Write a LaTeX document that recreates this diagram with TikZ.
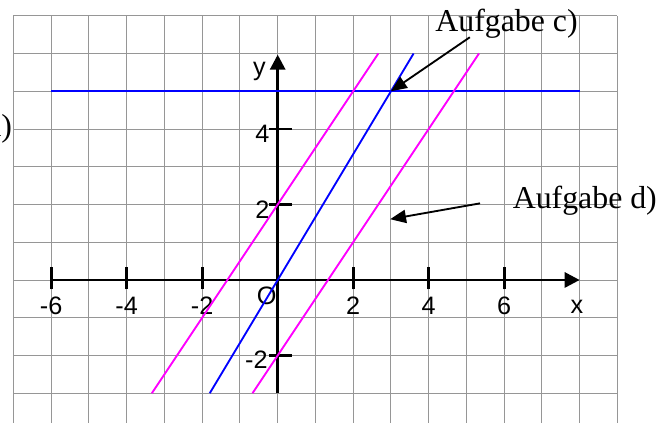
\documentclass[tikz,border=0pt]{standalone}
\usepackage{fontspec}
\setmainfont{Liberation Serif}
\setsansfont{Liberation Sans}
\usetikzlibrary{arrows.meta}
\definecolor{gridgray}{RGB}{150,150,150}
\definecolor{lineblue}{RGB}{0,0,255}
\definecolor{linemag}{RGB}{255,0,255}
\begin{document}
\begin{tikzpicture}[x=1cm,y=1cm,
  gridline/.style={draw=gridgray, line width=0.7pt},
  blueline/.style={draw=lineblue, line width=1.4pt},
  magline/.style={draw=linemag, line width=1.4pt},
  axisline/.style={draw=black, line width=2.2pt, -{Triangle[length=0.4cm,width=0.4cm]}},
  tickline/.style={draw=black, line width=2.2pt},
  ticklabel/.style={inner sep=0pt, font=\sffamily\fontsize{19}{19}\selectfont},
  callouttext/.style={inner sep=0pt, font=\rmfamily\fontsize{24}{24}\selectfont},
  calloutarrow/.style={draw=black, line width=1.4pt, -{Triangle[length=0.42cm,width=0.35cm]}}
]
\useasboundingbox (-7.356,-3.788) rectangle (10.313,7.417);

% grid
\draw[gridline] (-7,-4) grid (9,7);

% axes
\coordinate (xstart) at (-6,0);
\coordinate (xend) at (8,0);
\coordinate (ystart) at (0,-3);
\coordinate (yend) at (0,5.97);
\draw[axisline] (xstart) -- (xend);
\draw[axisline] (ystart) -- (yend);
\foreach \t in {-6,-4,-2,2,4,6}{
  \draw[tickline] (\t,-0.25) -- (\t,0.35);
  \node[ticklabel, anchor=base] (xl\t) at (\t,-0.92) {\t};
}
\foreach \t in {-2,2,4}{
  \draw[tickline] (-0.22,\t) -- (0.37,\t);
}
\node[ticklabel, anchor=base east] (yl4) at (-0.21,3.64) {4};
\node[ticklabel, anchor=base east] (yl2) at (-0.21,1.63) {2};
\node[ticklabel, anchor=base east] (ylm2) at (-0.26,-2.34) {-2};
\node[ticklabel, anchor=base] (xlab) at (7.93,-0.9) {x};
\node[ticklabel, anchor=base east] (ylab) at (-0.31,5.43) {y};
\node[ticklabel, anchor=base] (olab) at (-0.29,-0.66) {O};

% lines
\coordinate (ha) at (-6,5);
\coordinate (hb) at (8,5);
\draw[blueline] (ha) -- (hb);
\coordinate (ba) at (-1.8,-3);
\coordinate (bb) at (3.6,6);
\draw[blueline] (ba) -- (bb);
\coordinate (ma) at (-3.3333,-3);
\coordinate (mb) at (2.6667,6);
\draw[magline] (ma) -- (mb);
\coordinate (na) at (-0.6667,-3);
\coordinate (nb) at (5.3333,6);
\draw[magline] (na) -- (nb);

% callouts
\node[callouttext, anchor=base west] (tc) at (4.17,6.58) {Aufgabe c)};
\node[callouttext, anchor=base west] (td) at (6.22,1.9) {Aufgabe d)};
\node[callouttext, anchor=base east] (ta) at (-7.03,3.8) {Aufgabe a)};
\coordinate (cstart) at (5.09,6.43);
\coordinate (cend) at (3,5);
\draw[calloutarrow] (cstart) -- (cend);
\coordinate (dstart) at (5.36,2.03);
\coordinate (dend) at (2.98,1.61);
\draw[calloutarrow] (dstart) -- (dend);
\end{tikzpicture}
\end{document}
